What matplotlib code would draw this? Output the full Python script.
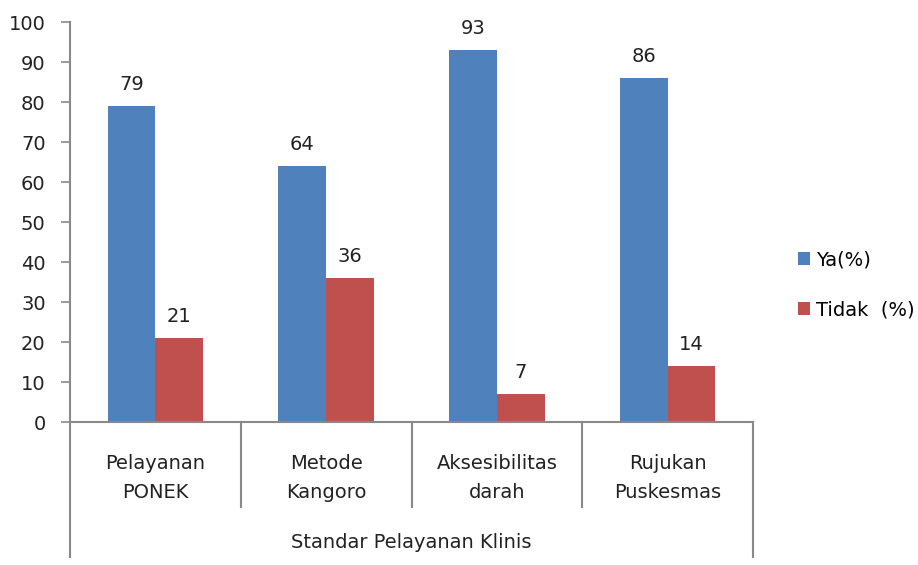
import numpy as np
import matplotlib
matplotlib.use("Agg")
import matplotlib.pyplot as plt

# data
categories = ["Pelayanan\nPONEK", "Metode\nKangoro", "Aksesibilitas\ndarah", "Rujukan\nPuskesmas"]
ya = [79, 64, 93, 86]
tidak = [21, 36, 7, 14]
series_names = ["Ya(%)", "Tidak  (%)"]
group_label = "Standar Pelayanan Klinis"
y_ticks = list(range(0, 101, 10))

blue = "#4F81BD"
red = "#C0504D"
grey = "#898989"
fs = 14

plt.rcParams['font.family'] = ['DejaVu Sans']

fig = plt.figure(figsize=(9.18, 5.65), dpi=100)
ax = fig.add_axes([70 / 918, 1 - 422 / 565, (753 - 70) / 918, 400 / 565])

x = np.arange(len(categories))
w = 0.28
b1 = ax.bar(x - w / 2, ya, w, color=blue, label=series_names[0])
b2 = ax.bar(x + w / 2, tidak, w, color=red, label=series_names[1])

for bars in (b1, b2):
    for rect in bars:
        h = rect.get_height()
        ax.annotate(f"{h:g}", (rect.get_x() + rect.get_width() / 2, h),
                    xytext=(0, 9), textcoords="offset points",
                    ha="center", va="bottom", fontsize=fs, color="#222222")

ax.set_xlim(-0.5, len(categories) - 0.5)
ax.set_ylim(0, 100)
ax.set_yticks(y_ticks)
ax.tick_params(axis="y", length=6.5, width=1.2, color=grey, pad=11,
               labelsize=fs, labelcolor="#222222")
ax.set_xticks([])

for s in ["top", "right"]:
    ax.spines[s].set_visible(False)
for s in ["left", "bottom"]:
    ax.spines[s].set_color(grey)
    ax.spines[s].set_linewidth(1.5)

# category boxes below the axis
trans = ax.get_xaxis_transform()
edges = np.arange(len(categories) + 1) - 0.5
for i, e in enumerate(edges):
    end = -0.3375 if i in (0, len(edges) - 1) else -0.2125
    ax.plot([e, e], [0, end], transform=trans, color=grey, lw=1.5, clip_on=False)

for i, c in enumerate(categories):
    ax.text(i, -0.14, c, transform=trans, ha="center", va="center",
            fontsize=fs, color="#222222", linespacing=1.65)

ax.text((len(categories) - 1) / 2, -0.3025, group_label, transform=trans,
        ha="center", va="center", fontsize=fs, color="#222222")

fig.legend(loc="center left", bbox_to_anchor=(790 / 918, 1 - 285 / 565),
           frameon=False, fontsize=fs, handlelength=0.65, handleheight=0.65,
           handletextpad=0.3, labelspacing=1.6, borderaxespad=0)

fig.savefig("out.png", dpi=100)
